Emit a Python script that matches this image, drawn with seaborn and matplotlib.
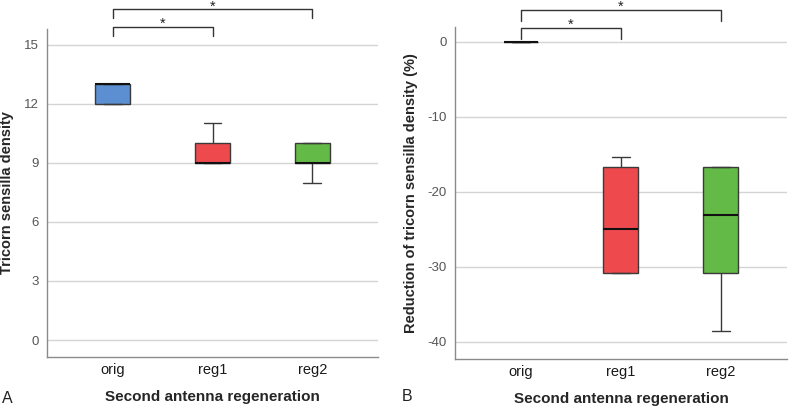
import matplotlib

matplotlib.use("Agg")
import matplotlib.pyplot as plt
import matplotlib.transforms as mtransforms
import pandas as pd
import seaborn as sns

groups = ["orig", "reg1", "reg2"]
palette = {"orig": "#5B8FD1", "reg1": "#EE4A4E", "reg2": "#63BA46"}

# panel A: tricorn sensilla density per individual
density_orig = [12, 12, 13, 13, 13]
density_reg1 = [9, 9, 9, 10, 11]
density_reg2 = [8, 9, 9, 10, 10]

# panel B: reduction relative to the original antenna (%)
reduction_orig = [0, 0, 0, 0, 0]
reduction_reg1 = [-30.8, -30.8, -25.0, -16.7, -15.4]
reduction_reg2 = [-38.5, -30.8, -23.1, -16.7, -16.7]

y_ticks_a = [0, 3, 6, 9, 12, 15]
y_ticks_b = [-40, -30, -20, -10, 0]

# significance brackets: (left group, right group, label)
brackets = [("orig", "reg1", "*"), ("orig", "reg2", "*")]


def long_frame(values):
    return pd.DataFrame(
        {
            "group": [g for g, v in zip(groups, values) for _ in v],
            "value": [x for v in values for x in v],
        }
    )


def style_axis(ax, ticks, ylim, ylabel):
    ax.set_xlim(-0.66, 2.66)
    ax.set_ylim(*ylim)
    ax.set_yticks(ticks)
    ax.grid(axis="y", color="#d4d4d4", linewidth=1)
    ax.grid(axis="x", visible=False)
    ax.set_axisbelow(True)
    for side in ["top", "right"]:
        ax.spines[side].set_visible(False)
    for side in ["left", "bottom"]:
        ax.spines[side].set_color("#8a8a8a")
        ax.spines[side].set_linewidth(1)
    ax.tick_params(axis="y", length=0, labelsize=9.5, labelcolor="#555555", pad=6)
    ax.tick_params(axis="x", length=0, labelsize=10.5, labelcolor="#1a1a1a", pad=4)
    ax.set_xlabel("Second antenna regeneration", fontsize=11, fontweight="bold", labelpad=10)
    ax.set_ylabel(ylabel, fontsize=10.5, fontweight="bold", labelpad=7)


def draw_brackets(ax, levels):
    trans = mtransforms.blended_transform_factory(ax.transData, ax.transAxes)
    for (left, right, label), (top, drop, star) in zip(brackets, levels):
        x0, x1 = groups.index(left), groups.index(right)
        ax.plot([x0, x0, x1, x1], [drop, top, top, drop], color="#333333",
                linewidth=1, transform=trans, clip_on=False)
        ax.text((x0 + x1) / 2, star, label, ha="center", va="center",
                fontsize=10.5, color="#222222", transform=trans)


def draw_panel(ax, values, ticks, ylim, ylabel, levels):
    frame = long_frame(values)
    sns.boxplot(
        data=frame, x="group", y="value", hue="group", palette=palette,
        order=groups, width=0.35, linewidth=1, linecolor="#3a3a3a",
        saturation=1, whis=1.5, showfliers=False, legend=False, ax=ax,
        medianprops={"color": "#111111", "linewidth": 1.5},
    )
    style_axis(ax, ticks, ylim, ylabel)
    draw_brackets(ax, levels)


sns.set_theme(style="whitegrid")
plt.rcParams["font.family"] = ["Liberation Sans", "DejaVu Sans"]
plt.rcParams["axes.unicode_minus"] = False

fig = plt.figure(figsize=(7.9, 4.08), dpi=100)
ax_a = fig.add_axes([0.0595, 0.125, 0.419, 0.804])
ax_b = fig.add_axes([0.576, 0.120, 0.420, 0.814])

draw_panel(ax_a, [density_orig, density_reg1, density_reg2], y_ticks_a,
           (-0.86, 15.8), "Tricorn sensilla density",
           [(1.006, 0.979, 1.016), (1.061, 1.034, 1.067)])
draw_panel(ax_b, [reduction_orig, reduction_reg1, reduction_reg2], y_ticks_b,
           (-42.3, 2.0), "Reduction of tricorn sensilla density (%)",
           [(0.997, 0.964, 1.007), (1.051, 1.018, 1.060)])

fig.text(0.003, 0.012, "A", fontsize=11.5, color="#222222")
fig.text(0.508, 0.017, "B", fontsize=11.5, color="#222222")

fig.savefig("out.png", dpi=100)
plt.close(fig)
